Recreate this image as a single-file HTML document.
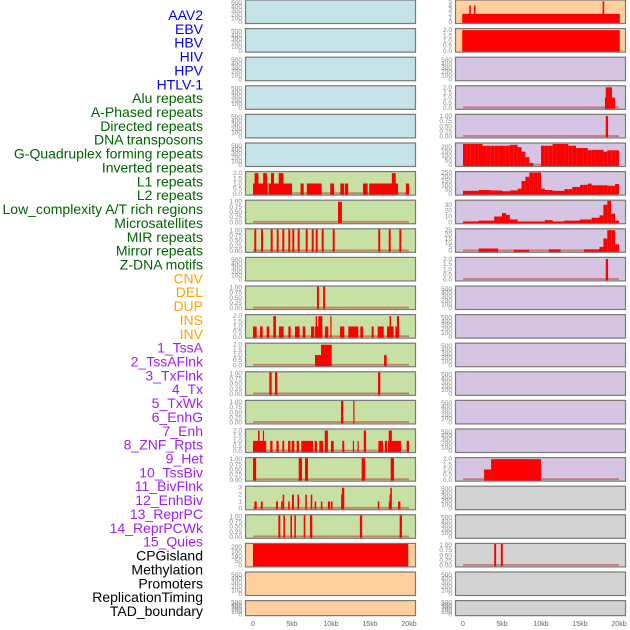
<!DOCTYPE html>
<html><head><meta charset="utf-8">
<style>
html,body{margin:0;padding:0;background:#fff;width:630px;height:630px;overflow:hidden}
svg{display:block;font-family:"Liberation Sans",sans-serif}
</style></head>
<body>
<svg id="chart" width="630" height="630" viewBox="0 0 630 630" xmlns="http://www.w3.org/2000/svg"></svg>
<script>
// ---- data ----
const trackLabels = ["AAV2","EBV","HBV","HIV","HPV","HTLV-1","Alu repeats","A-Phased repeats","Directed repeats","DNA transposons","G-Quadruplex forming repeats","Inverted repeats","L1 repeats","L2 repeats","Low_complexity A/T rich regions","Microsatellites","MIR repeats","Mirror repeats","Z-DNA motifs","CNV","DEL","DUP","INS","INV","1_TssA","2_TssAFlnk","3_TxFlnk","4_Tx","5_TxWk","6_EnhG","7_Enh","8_ZNF_Rpts","9_Het","10_TssBiv","11_BivFlnk","12_EnhBiv","13_ReprPC","14_ReprPCWk","15_Quies","CPGisland","Methylation","Promoters","ReplicationTiming","TAD_boundary"];
const labelGroups = [6,13,5,15,5];
const xTicks = [0,5,10,15,20];
const xTickLabels = ["0","5kb","10kb","15kb","20kb"];
const ticks500 = [0,100,200,300,400,500];
const ticks2 = [0,0.5,1,1.5,2];
const ticks1 = [0,0.25,0.5,0.75,1];
const ticks1Labels = ["0.00","0.25","0.50","0.75","1.00"];
const ticks2Labels = ["0.0","0.5","1.0","1.5","2.0"];

// left column segments [startKb, endKb, value]
const segL1 = [[0,1.9,1],[0.2,0.7,2],[1.3,1.8,2],[2.0,5.0,1],[2.3,2.7,2],[3.3,3.9,2],[6.1,6.5,1],[6.9,8.8,1],[9.9,10.4,1],[11.2,11.7,1],[11.8,12.2,1],[14.1,14.7,1],[14.9,18.6,1],[17.8,18.3,2],[19.6,20.0,1]];
const segAPhased = [[10.9,11.4,1]];
const barsDirected = [0.17,1.03,2.27,3.04,3.76,4.53,5.04,5.73,6.76,7.53,8.04,8.81,10.22,16.06,17.4,18.76];
const barsGQuad = [8.2,9.0];
const segInverted = [[0,0.47,1],[0.9,1.24,1],[1.75,2.09,1],[2.6,2.95,2],[3.33,3.93,1],[4.53,4.83,1],[5.38,5.98,1],[6.37,6.71,1],[7.44,7.86,1],[7.95,8.89,1],[8.03,8.2,2],[8.37,8.89,2],[9.23,9.66,1],[9.91,10.04,2],[11.15,11.71,1],[12.22,13.5,1],[13.76,14.1,1],[15.21,15.47,1],[15.98,16.76,1],[17.18,18.03,1],[17.5,17.7,2],[18.25,18.63,1],[18.46,18.72,2]];
const segL1b = [[7.95,8.72,1],[8.72,10.09,2],[16.8,17.14,1]];
const barsL2 = [[2.09,2.39],[2.82,3.12],[16.03,16.32]];
const barsLowComplex = [[11.28,11.58],[12.86,12.99]];
const segMicro = [[0,1.7,1],[0.64,0.85,2],[1.26,1.41,2],[2.2,2.5,1],[3.0,3.3,1],[3.76,4.0,1],[4.5,4.8,1],[4.95,5.3,1],[5.6,5.9,1],[6.2,7.7,1],[7.9,8.2,1],[8.5,9.0,1],[9.2,9.6,2],[10.0,10.35,1],[11.45,11.7,1],[12.8,12.95,1],[13.4,13.55,1],[14.2,14.5,2],[16.07,16.67,1],[16.9,17.2,1],[17.3,18.97,1],[17.4,17.8,2],[19.7,20.0,1]];
const barsMIR = [[0,0.4],[5.86,6.28],[6.67,7.05],[13.93,14.36],[17.65,18.08]];
const segMirror = [[0.17,0.47,1],[1.0,1.24,1],[2.95,3.2,1],[3.6,3.8,1],[3.8,4.0,2],[4.5,4.7,1],[5.0,5.25,2],[5.7,5.9,2],[6.7,6.9,2],[7.4,7.6,2],[7.9,8.1,1],[8.7,8.9,1],[9.6,9.9,1],[10.0,10.2,1],[11.3,11.45,2],[11.4,11.7,3],[16.0,16.2,1],[17.4,17.6,1],[17.5,17.7,2],[17.6,17.8,3],[18.6,18.9,1]];
const barsZDNA = [[3.25,3.5],[3.9,4.1],[4.8,5.0],[5.3,5.5],[6.5,6.7],[7.3,7.6],[13.7,14.0],[18.8,19.1]];
const segCPG = [[0,19.9,240]];
// right column
const segRAAV2 = [[-0.1,20.1,2],[0.8,1.0,4],[1.4,1.6,4],[17.9,18.1,5]];
const segREBV = [[-0.1,20.1,2]];
const segRHIV = [[18.2,19.5,1],[18.3,19.1,2]];
const segRHPV = [[18.3,18.6,1]];
const binsGQuadR = [235,235,235,235,235,215,215,215,215,215,215,215,225,225,200,150,90,25,0,0,215,215,215,235,235,235,235,215,215,190,190,190,165,170,170,170,150,165,165,165];
const binsInvertedR = [35,35,35,35,45,45,45,40,40,40,30,30,40,40,60,150,200,250,250,250,60,45,45,35,35,35,55,55,80,80,105,105,120,100,100,100,100,95,95,115];
const binsL1R = [1,1,1,1,3,3,3,3,10,10,16,13,5,5,1,1,1,1,1,1,1,4,4,1,1,1,3,3,3,3,5,5,5,8,8,12,30,37,15,3];
const binsL2R = [0,0,0,0,3,3,3,3,3,0,0,0,0,1.5,1.5,1.5,1.5,0,0,0,0,0,2,2,2,0,0,0,0,0,0,2,2,2,2,5,15,25,25,8];
const segLowR = [[18.3,18.6,2]];
const segHetR = [[2.7,3.6,1],[3.6,10.0,2]];
const barsCPGR = [[4.0,4.25],[4.85,5.1]];

// ---- layout ----
const svg = document.getElementById('chart');
const NS = 'http://www.w3.org/2000/svg';
function mk(tag, attrs, parent){const e=document.createElementNS(NS,tag);for(const k in attrs)e.setAttribute(k,attrs[k]);(parent||svg).appendChild(e);return e;}
const colX=[245,455], colW=171, kbPx=7.8;
const BLUE='#c6e3ea', GREEN='#c7e1a5', PEACH='#ffd09e', LAV='#d5c5e3', GRAY='#d3d3d3';
function rowTop(i){return 28.6*i-0.5;}
function rowH(i){return i===21?16:24.5;}

const panels=[];
for(let i=0;i<6;i++)panels.push([0,i,BLUE,560,ticks500,null,'none',null]);
panels.push([0,6,GREEN,2.1,ticks2,ticks2Labels,'seg',segL1]);
panels.push([0,7,GREEN,1.05,ticks1,ticks1Labels,'seg',segAPhased]);
panels.push([0,8,GREEN,1.05,ticks1,ticks1Labels,'bar',barsDirected.map(x=>[x,x+0.25])]);
panels.push([0,9,GREEN,560,ticks500,null,'none',null]);
panels.push([0,10,GREEN,1.05,ticks1,ticks1Labels,'bar',barsGQuad.map(x=>[x,x+0.25])]);
panels.push([0,11,GREEN,2.1,ticks2,ticks2Labels,'seg',segInverted]);
panels.push([0,12,GREEN,2.1,ticks2,ticks2Labels,'seg',segL1b]);
panels.push([0,13,GREEN,1.05,ticks1,ticks1Labels,'bar',barsL2]);
panels.push([0,14,GREEN,1.05,ticks1,ticks1Labels,'bar',barsLowComplex]);
panels.push([0,15,GREEN,2.1,ticks2,ticks2Labels,'seg',segMicro]);
panels.push([0,16,GREEN,1.05,ticks1,ticks1Labels,'bar',barsMIR]);
panels.push([0,17,GREEN,3.15,[0,1,2,3],null,'seg',segMirror]);
panels.push([0,18,GREEN,1.05,ticks1,ticks1Labels,'bar',barsZDNA]);
panels.push([0,19,PEACH,235,[0,50,100,150,200],null,'fill',segCPG]);
panels.push([0,20,PEACH,560,ticks500,null,'none',null]);
panels.push([0,21,PEACH,560,ticks500,null,'none',null]);
panels.push([1,0,PEACH,5.2,[0,1,2,3,4,5],null,'fill',segRAAV2]);
panels.push([1,1,PEACH,2.1,ticks2,ticks2Labels,'fill',segREBV]);
panels.push([1,2,LAV,560,ticks500,null,'none',null]);
panels.push([1,3,LAV,2.1,ticks2,ticks2Labels,'seg',segRHIV]);
panels.push([1,4,LAV,1.05,ticks1,ticks1Labels,'seg',segRHPV]);
panels.push([1,5,LAV,240,[0,50,100,150,200],null,'bins',binsGQuadR]);
panels.push([1,6,LAV,255,[0,50,100,150,200,250],null,'bins',binsInvertedR]);
panels.push([1,7,LAV,37,[0,10,20,30],null,'bins',binsL1R]);
panels.push([1,8,LAV,26,[0,5,10,15,20,25],null,'bins',binsL2R]);
panels.push([1,9,LAV,2.1,ticks2,ticks2Labels,'seg',segLowR]);
for(let i=10;i<16;i++)panels.push([1,i,LAV,560,ticks500,null,'none',null]);
panels.push([1,16,LAV,2.1,ticks2,ticks2Labels,'seg',segHetR]);
panels.push([1,17,GRAY,560,ticks500,null,'none',null]);
panels.push([1,18,GRAY,560,ticks500,null,'none',null]);
panels.push([1,19,GRAY,1.05,ticks1,ticks1Labels,'bar',barsCPGR]);
panels.push([1,20,GRAY,560,ticks500,null,'none',null]);
panels.push([1,21,GRAY,560,ticks500,null,'none',null]);

panels.forEach(p=>{
  const [c,r,bg,ymax,tks,tkl,kind,data]=p;
  const x0=colX[c], top=rowTop(r), h=rowH(r);
  const g=mk('g',{});
  
  
  mk('rect',{x:x0,y:top,width:colW,height:h,fill:bg},g);
  const yZero=top+h-1.8, yTop=top+1;
  const sy=v=>yZero-Math.min(v,ymax)/ymax*(yZero-yTop);
  const sx=kb=>x0+8+kb*kbPx;
  tks.forEach((t,k)=>{
    const ty=sy(t);
    const tx=mk('text',{x:x0-3,y:ty+2,'font-size':6.5,fill:'#888','text-anchor':'end'},g);
    
    
    tx.textContent=tkl?tkl[k]:String(t);
  });
  const lo=Math.max(sx(-0.1),x0+1), hi=Math.min(sx(20.1),x0+colW-1);
  const clip=(a,b)=>[Math.max(a,lo),Math.min(b,hi)];
  if(kind!=='none'&&kind!=='fill'){
    const bl=mk('rect',{x:sx(0),y:yZero-1.5,width:sx(20)-sx(0),height:1.8,fill:'#c0392b',opacity:0.55},g);
    
    
  }
  const drawRect=(a,b,v,name)=>{
    const [xa,xb]=clip(sx(a),sx(b)); if(xb<=xa)return;
    const y=sy(v);
    const rr=mk('rect',{x:xa,y:y,width:Math.max(xb-xa,1.2),height:yZero+1-y,fill:'#ff0000'},g);
    
    
  };
  if(kind==='seg'||kind==='fill'){data.forEach(d=>drawRect(d[0],d[1],d[2],'signal-bar'));}
  if(kind==='bar'){data.forEach(d=>drawRect(d[0],d[1],ymax,'feature-bar'));}
  if(kind==='bins'){data.forEach((v,k)=>{if(v>0)drawRect(k*0.5,(k+1)*0.5,v,'signal-bin');});}
  mk('rect',{x:x0+0.5,y:top+0.5,width:colW-1,height:h-1,fill:'none',stroke:'#7a7a7a','stroke-width':1.2},g);
});

colX.forEach((x0,c)=>{
  xTicks.forEach((t,k)=>{
    const tx=mk('text',{x:x0+8+t*kbPx,y:626,'font-size':7,fill:'#666','text-anchor':'middle'});
    
    
    tx.textContent=xTickLabels[k];
  });
});

const groupColors=['#0000ee','#006400','#ffa500','#a020f0','#000000'];
let gi=0,cnt=0;
trackLabels.forEach((lab,i)=>{
  while(cnt>=labelGroups[gi]){gi++;cnt=0;}
  cnt++;
  const tx=mk('text',{x:203,y:20+i*13.86,'font-size':14,fill:groupColors[gi],'text-anchor':'end'});
  
  
  tx.textContent=lab;
});
</script>
</body></html>
